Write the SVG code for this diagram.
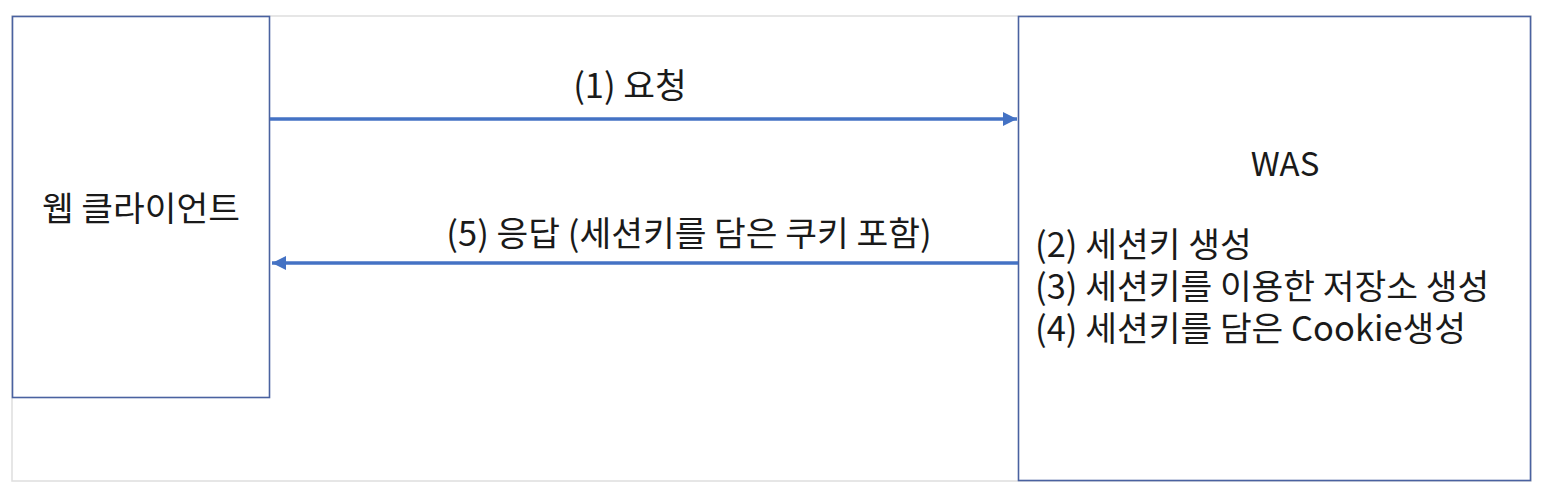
<svg xmlns="http://www.w3.org/2000/svg" width="1544" height="494" viewBox="0 0 1544 494">
<style>
.box{fill:#fff;stroke:#4a62a0;stroke-width:1.6}
.t{font-family:"Noto Sans CJK KR","Noto Sans",sans-serif;font-size:34.5px;fill:#1a1a1a}
.c{stroke:#4472c4;stroke-width:3.5;fill:none}
</style>
<defs>
<marker id="ah" viewBox="0 0 10 10" refX="10" refY="5" markerWidth="4.2" markerHeight="4" orient="auto" markerUnits="strokeWidth">
<path d="M0,0 L10,5 L0,10 z" fill="#4472c4"/>
</marker>
</defs>
<rect x="0" y="0" width="1544" height="494" fill="#fff"/>
<rect x="12" y="16" width="1519" height="465" fill="none" stroke="#dedede" stroke-width="1.5"/>
<g id="client">
<rect class="box" x="12.5" y="16.5" width="257" height="381"/>
<text class="t" x="141" y="221" text-anchor="middle">웹 클라이언트</text>
</g>
<g id="was">
<rect class="box" x="1018.5" y="16.5" width="512" height="464"/>
<text class="t" x="1285" y="176" text-anchor="middle" style="font-size:33px">WAS</text>
<text class="t"><tspan x="1035" y="257">(2) 세션키 생성</tspan><tspan x="1035" y="299">(3) 세션키를 이용한 저장소 생성</tspan><tspan x="1035" y="341">(4) 세션키를 담은 Cookie생성</tspan></text>
</g>
<g id="connectors">
<line class="c" x1="270" y1="119" x2="1017" y2="119" marker-end="url(#ah)"/>
<text class="t" x="630" y="98" text-anchor="middle">(1) 요청</text>
<line class="c" x1="1018" y1="263" x2="272" y2="263" marker-end="url(#ah)"/>
<text class="t" x="689" y="246" text-anchor="middle">(5) 응답 (세션키를 담은 쿠키 포함)</text>
</g>
</svg>
